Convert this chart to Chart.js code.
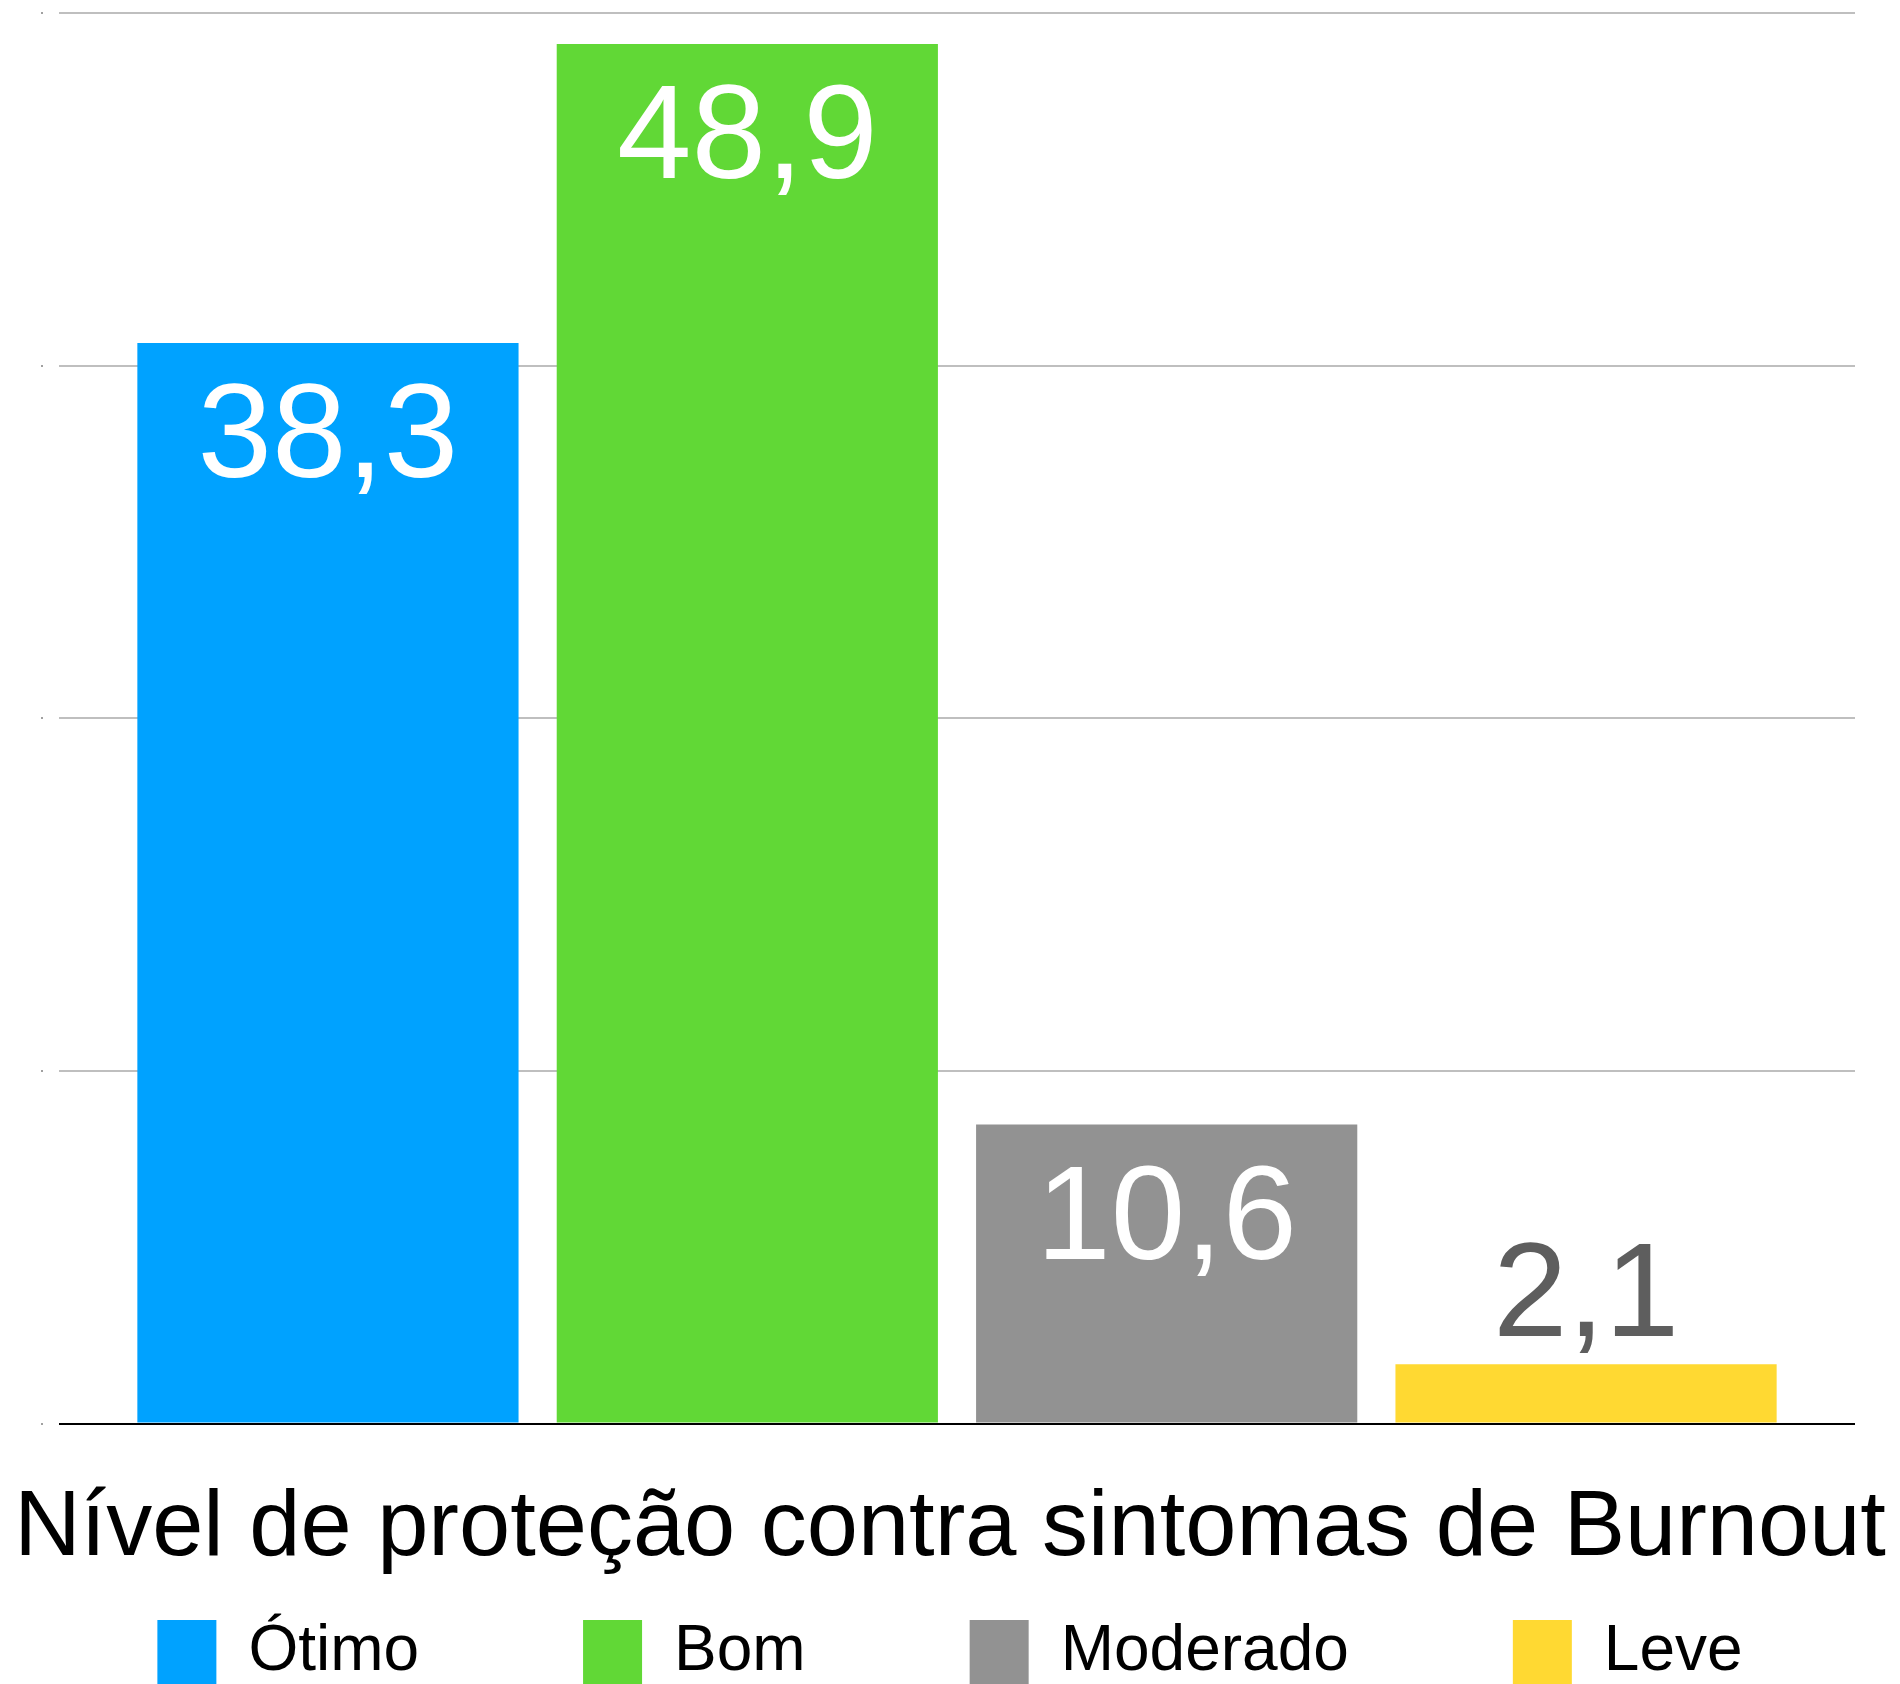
<!DOCTYPE html>
<html>
<head>
<meta charset="utf-8">
<script src="https://cdn.jsdelivr.net/npm/chart.js@4.4.1/dist/chart.umd.min.js"></script>
<style>
    html, body { margin: 0; padding: 0; background: #ffffff; }
    #wrap { width: 1900px; height: 1684px; position: relative; }
</style>
</head>
<body>
<div id="wrap"><canvas id="chart1"></canvas></div>
<script>
/* ---------------------------------------------------------------------------------------- */
/* DATA                                                                                     */
/* ---------------------------------------------------------------------------------------- */

    var categories  = ['Ótimo', 'Bom', 'Moderado', 'Leve'];
    var values      = [38.3, 48.9, 10.6, 2.1];
    var axisTitle   = 'Nível de proteção contra sintomas de Burnout';
    var yMax        = 50;
    var yStep       = 12.5;

    var colors      = ['#00A2FF', '#61D836', '#929292', '#FFD932'];
    var FONT        = '"Liberation Sans", Arial, Helvetica, sans-serif';

    // legend row is wider than the canvas allows with this spacing, so the outer
    // padding is pulled out by SIDE px and the axes take it back
    var SIDE = 60;

/* ---------------------------------------------------------------------------------------- */
/* VALUE LABELS - inside the bar if tall enough, else above it                              */
/* ---------------------------------------------------------------------------------------- */

    var valueLabels = {
        id: 'valueLabels',
        afterDatasetsDraw: function(chart){
            var ctx = chart.ctx;
            ctx.save();
            ctx.font = '134px ' + FONT;
            ctx.textAlign = 'center';
            ctx.textBaseline = 'alphabetic';
            chart.data.datasets.forEach(function(ds, i){
                var bar = chart.getDatasetMeta(i).data[0];
                var txt = String(ds.data[0]).replace('.', ',');
                if(bar.base - bar.y > 150){
                    ctx.fillStyle = '#ffffff';
                    ctx.fillText(txt, bar.x, bar.y + 134);
                }else{
                    ctx.fillStyle = '#5e5e5e';
                    ctx.fillText(txt, bar.x, bar.y - 28);
                }
            });
            ctx.restore();
        }
    };

/* ---------------------------------------------------------------------------------------- */
/* CHART                                                                                    */
/* ---------------------------------------------------------------------------------------- */

    var datasets = [];
    for(let i = 0; i < categories.length; i++){
        datasets.push({
            label: categories[i],
            data: [values[i]],
            backgroundColor: colors[i],
            borderWidth: 0,
            categoryPercentage: 0.934,
            barPercentage: 0.909
        });
    }

    var ctx = document.getElementById('chart1').getContext('2d');
    var chart1 = new Chart(ctx, {
        type: 'bar',
        data: { labels: [''], datasets: datasets },
        plugins: [valueLabels],
        options: {
            responsive: true,
            maintainAspectRatio: false,
            animation: false,
            layout: { padding: { top: 13, bottom: -10, left: -SIDE, right: -SIDE } },
            scales: {
                x: { display: false },
                y: {
                    min: 0,
                    max: yMax,
                    ticks: { display: false, stepSize: yStep },
                    border: { display: false },
                    grid: {
                        color: function(c){ return (c.tick && c.tick.value === 0) ? '#000000' : '#bfbfbf'; },
                        lineWidth: 2,
                        drawTicks: true,
                        tickLength: 18,
                        tickWidth: 2,
                        tickColor: '#a0a0a0',
                        tickBorderDash: [2, 40]
                    },
                    afterFit: function(s){ s.width = 59 + SIDE; }
                },
                yr: {
                    type: 'linear',
                    position: 'right',
                    ticks: { display: false },
                    grid: { display: false },
                    border: { display: false },
                    afterFit: function(s){ s.width = 45 + SIDE; }
                }
            },
            plugins: {
                tooltip: { enabled: false },
                title: {
                    display: true,
                    text: axisTitle,
                    position: 'bottom',
                    weight: 500,
                    color: '#000000',
                    font: { family: FONT, size: 92, weight: 'normal' },
                    padding: { top: 51, bottom: -129 }
                },
                legend: {
                    position: 'bottom',
                    align: 'center',
                    labels: {
                        boxWidth: 59,
                        boxHeight: 64,
                        padding: 164,
                        color: '#000000',
                        font: { family: FONT, size: 64 }
                    }
                }
            }
        }
    });
</script>
</body>
</html>
